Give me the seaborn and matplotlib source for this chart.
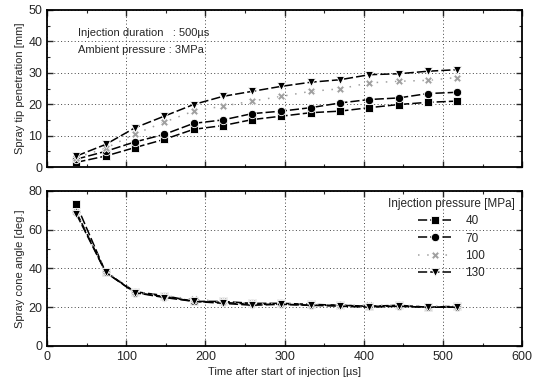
import numpy as np
import pandas as pd
import matplotlib
matplotlib.use("Agg")
import matplotlib.pyplot as plt
from matplotlib.ticker import MultipleLocator
import seaborn as sns

# Time after start of injection [us]
time_us = [37, 74, 111, 148, 185, 222, 259, 296, 333, 370, 407, 444, 481, 518]
pressures = ["40", "70", "100", "130"]

# Spray tip penetration [mm]
pen_40 = [1.5, 3.5, 6.2, 8.8, 12.0, 13.2, 15.1, 16.2, 17.3, 17.8, 18.9, 19.9, 20.6, 21.0]
pen_70 = [2.5, 5.0, 8.0, 10.4, 13.9, 15.0, 17.0, 17.8, 18.9, 20.4, 21.5, 22.0, 23.4, 23.8]
pen_100 = [3.0, 6.0, 10.5, 14.3, 17.8, 19.4, 21.0, 22.5, 24.1, 24.9, 26.8, 27.3, 27.6, 28.5]
pen_130 = [3.5, 7.2, 12.5, 16.2, 19.9, 22.5, 24.1, 25.7, 27.0, 27.8, 29.4, 29.7, 30.5, 31.0]

# Spray cone angle [deg.]
ang_40 = [73, 38, 28, 26, 23, 23, 22, 22, 21.5, 21, 20.5, 21, 20, 20.5]
ang_70 = [69, 38, 27.5, 25.5, 23, 22.5, 21.5, 21.5, 21, 21, 20.5, 20.5, 20, 20]
ang_100 = [69, 38.5, 28, 26, 24, 23, 22, 22, 21.5, 21, 21, 21, 20.5, 20.5]
ang_130 = [68, 38, 27.5, 25, 23, 22, 21, 21.5, 21, 20.5, 20, 20.5, 20, 20]

sns.set_style("ticks")
plt.rcParams["font.family"] = ["Liberation Sans", "DejaVu Sans"]


def long_form(series):
    rows = []
    for p, vals in zip(pressures, series):
        for t, v in zip(time_us, vals):
            rows.append({"time": t, "value": v, "pressure": p})
    return pd.DataFrame(rows)


pen_df = long_form([pen_40, pen_70, pen_100, pen_130])
ang_df = long_form([ang_40, ang_70, ang_100, ang_130])

palette = {"40": "black", "70": "black", "100": "#a0a0a0", "130": "black"}
markers = {"40": "s", "70": "o", "100": "X", "130": "v"}
dashes = {"40": (6, 2), "70": (6, 2), "100": (1, 5), "130": (6, 2)}

fig = plt.figure(figsize=(5.35, 3.84), dpi=100)
ax1 = fig.add_axes([0.088, 0.565, 0.888, 0.409])
ax2 = fig.add_axes([0.088, 0.099, 0.888, 0.404])

common = dict(x="time", y="value", hue="pressure", style="pressure",
              palette=palette, markers=markers, dashes=dashes,
              hue_order=pressures, style_order=pressures,
              markersize=6, linewidth=1.1, markeredgewidth=0.6)

sns.lineplot(data=pen_df, ax=ax1, legend=False, **common)
sns.lineplot(data=ang_df, ax=ax2, legend=True, **common)

for ax in (ax1, ax2):
    ax.set_xlim(0, 600)
    ax.xaxis.set_major_locator(MultipleLocator(100))
    ax.xaxis.set_minor_locator(MultipleLocator(50))
    ax.grid(True, which="major", linestyle=(0, (1, 2.5)), color="#444444", linewidth=0.7)
    ax.tick_params(which="both", direction="in", top=True, right=True, labelsize=9)
    ax.tick_params(which="major", length=4, width=1)
    ax.tick_params(which="minor", length=2, width=0.8)
    for s in ax.spines.values():
        s.set_linewidth(1.3)
        s.set_color("black")
    ax.set_xlabel("")

ax1.set_ylim(0, 50)
ax1.yaxis.set_major_locator(MultipleLocator(10))
ax1.yaxis.set_minor_locator(MultipleLocator(5))
ax1.tick_params(labelbottom=False)
ax1.set_ylabel("Spray tip penetration [mm]", fontsize=8, labelpad=2)
ax1.text(39, 42.8, "Injection duration   : 500\u00b5s", fontsize=8, va="center")
ax1.text(39, 37.2, "Ambient pressure : 3MPa", fontsize=8, va="center")

ax2.set_ylim(0, 80)
ax2.yaxis.set_major_locator(MultipleLocator(20))
ax2.yaxis.set_minor_locator(MultipleLocator(10))
ax2.set_ylabel("Spray cone angle [deg.]", fontsize=8, labelpad=2)
ax2.set_xlabel("Time after start of injection [\u00b5s]", fontsize=8, labelpad=3)

handles, labels = ax2.get_legend_handles_labels()
leg = ax2.legend(handles, labels, title="Injection pressure [MPa]", loc="upper right",
                 frameon=False, fontsize=8.5, title_fontsize=8.5, handlelength=2.8,
                 labelspacing=0.45, borderaxespad=0.2, handletextpad=1.2)

fig.savefig("out.png", dpi=100)
